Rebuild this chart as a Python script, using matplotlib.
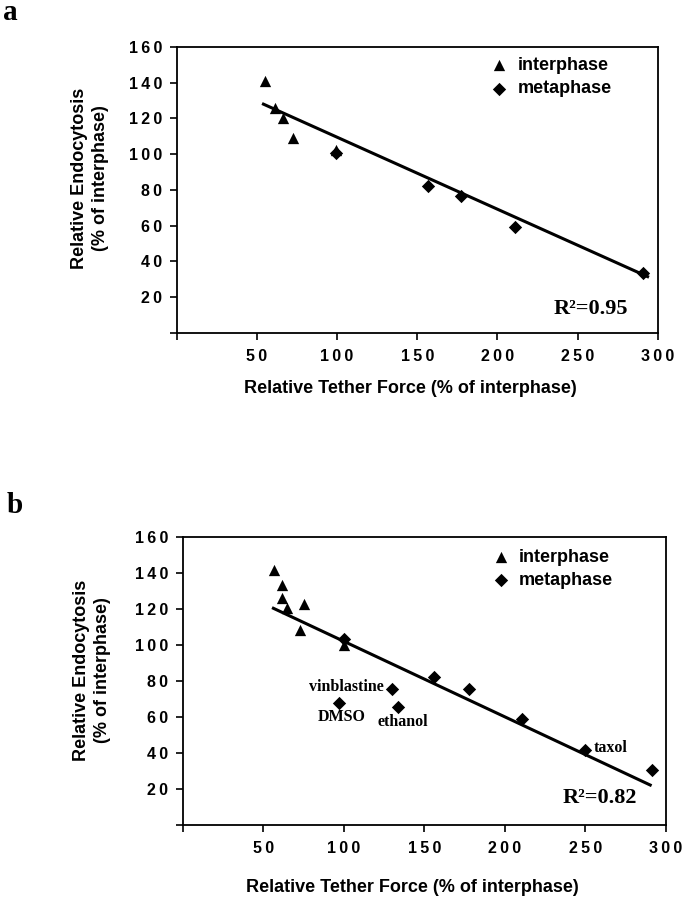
import matplotlib
matplotlib.use("Agg")
import matplotlib.pyplot as plt

# ---------------- data ----------------
# panel a
a_inter_x = [55.2, 61.0, 66.2, 72.5, 99.4]
a_inter_y = [141.0, 126.0, 120.0, 109.0, 102.5]
a_meta_x = [99.4, 156.9, 177.5, 210.8, 290.6]
a_meta_y = [100.8, 82.2, 76.6, 59.4, 33.6]
a_fit_x = [54.1, 293.7]
a_fit_y = [128.0, 31.4]
a_r2 = "R\u00b2=0.95"

# panel b
b_inter_x = [56.7, 61.5, 61.5, 65.0, 75.5, 72.9, 100.2]
b_inter_y = [141.5, 133.3, 126.3, 120.4, 122.8, 108.3, 100.0]
b_meta_x = [100.2, 156.3, 178.0, 210.5, 249.9, 291.0, 129.8, 97.3, 133.9]
b_meta_y = [103.2, 82.0, 75.6, 58.7, 41.7, 30.6, 75.6, 67.6, 65.7]
b_fit_x = [56.3, 290.2]
b_fit_y = [120.4, 22.2]
b_r2 = "R\u00b2=0.82"
b_labels = ["vinblastine", "DMSO", "ethanol", "taxol"]
b_label_x = [129.8, 97.3, 133.9, 249.9]
b_label_y = [75.6, 67.6, 65.7, 41.7]

x_ticks = [0, 50, 100, 150, 200, 250, 300]
x_ticklabels = ["", "50", "100", "150", "200", "250", "300"]
y_ticks = [0, 20, 40, 60, 80, 100, 120, 140, 160]
y_ticklabels = ["", "20", "40", "60", "80", "100", "120", "140", "160"]

series_names = ["interphase", "metaphase"]
x_label = "Relative Tether Force (% of interphase)"
y_label = "Relative Endocytosis\n(% of interphase)"

# ---------------- styling ----------------
SANS = ["Liberation Sans", "DejaVu Sans"]
SERIF = ["Liberation Serif", "DejaVu Serif"]
GAP = "\u2009"


def spaced(s):
    return GAP.join(list(s))


fig = plt.figure(figsize=(6.82, 8.99), dpi=100)

W, H = 682.0, 899.0


def axes_px(left, right, top, bottom):
    return fig.add_axes([left / W, 1 - bottom / H, (right - left) / W, (bottom - top) / H])


ax_a = axes_px(176.7, 657.7, 47.0, 332.7)
ax_b = axes_px(182.7, 666.0, 537.0, 825.0)


def style_axes(ax, xlab_pos, ylab_pos):
    ax.set_xlim(0, 300)
    ax.set_ylim(0, 160)
    ax.set_xticks(x_ticks)
    ax.set_xticklabels([spaced(t) for t in x_ticklabels], family=SANS,
                       fontweight="bold", fontsize=11.5)
    ax.set_yticks(y_ticks)
    ax.set_yticklabels([spaced(t) for t in y_ticklabels], family=SANS,
                       fontweight="bold", fontsize=11.5)
    ax.tick_params(axis="x", direction="out", length=5, width=1.2, pad=6.5)
    ax.tick_params(axis="y", direction="out", length=5, width=1.2, pad=5.5)
    for sp in ax.spines.values():
        sp.set_linewidth(1.3)
    ax.set_xlabel(x_label, family=SANS, fontweight="bold", fontsize=13)
    ax.xaxis.set_label_coords(*xlab_pos)
    ax.xaxis.label.set_va("center")
    ax.set_ylabel(y_label, family=SANS, fontweight="bold", fontsize=13,
                  linespacing=1.3)
    ax.yaxis.set_label_coords(*ylab_pos)
    ax.yaxis.label.set_va("center")


def draw_panel(ax, ix, iy, mx, my, fx, fy, r2, leg_anchor, r2_pos):
    ax.plot(fx, fy, color="black", lw=2.2, zorder=2)
    hi = ax.scatter(ix, iy, marker="^", s=66, color="black", zorder=3,
                    label=series_names[0], linewidths=0)
    hm = ax.scatter(mx, my, marker="D", s=46, color="black", zorder=3,
                    label=series_names[1], linewidths=0)
    ax.legend(handles=[hi, hm], loc="upper left", bbox_to_anchor=leg_anchor,
              frameon=False, handlelength=1.0, handletextpad=0.5,
              borderpad=0, borderaxespad=0, labelspacing=0.35,
              prop={"family": SANS, "weight": "bold", "size": 13})
    ax.text(r2_pos[0], r2_pos[1], r2, family=SERIF, fontweight="bold",
            fontsize=16, ha="center", va="center")


style_axes(ax_a, (0.486, -0.197), (-0.181, 0.541))
draw_panel(ax_a, a_inter_x, a_inter_y, a_meta_x, a_meta_y, a_fit_x, a_fit_y,
           a_r2, (0.652, 0.965), (258, 13.5))

style_axes(ax_b, (0.475, -0.218), (-0.187, 0.538))
draw_panel(ax_b, b_inter_x, b_inter_y, b_meta_x, b_meta_y, b_fit_x, b_fit_y,
           b_r2, (0.64, 0.96), (259, 15))

# annotations in panel b (offsets in points)
offsets = [(-5.5, 1.5), (1.5, -9.5), (3.0, -11.0), (6.0, 1.5)]
has = ["right", "center", "center", "left"]
for lab, x, y, off, ha in zip(b_labels, b_label_x, b_label_y, offsets, has):
    ax_b.annotate(lab, (x, y), xytext=off, textcoords="offset points",
                  ha=ha, va="center", family=SERIF, fontweight="bold",
                  fontsize=11.5)

fig.text(3 / W, 1 - 20 / H, "a", family=SERIF, fontweight="bold", fontsize=21,
         ha="left", va="baseline")
fig.text(7 / W, 1 - 513 / H, "b", family=SERIF, fontweight="bold", fontsize=21,
         ha="left", va="baseline")

fig.savefig("out.png", dpi=100)
